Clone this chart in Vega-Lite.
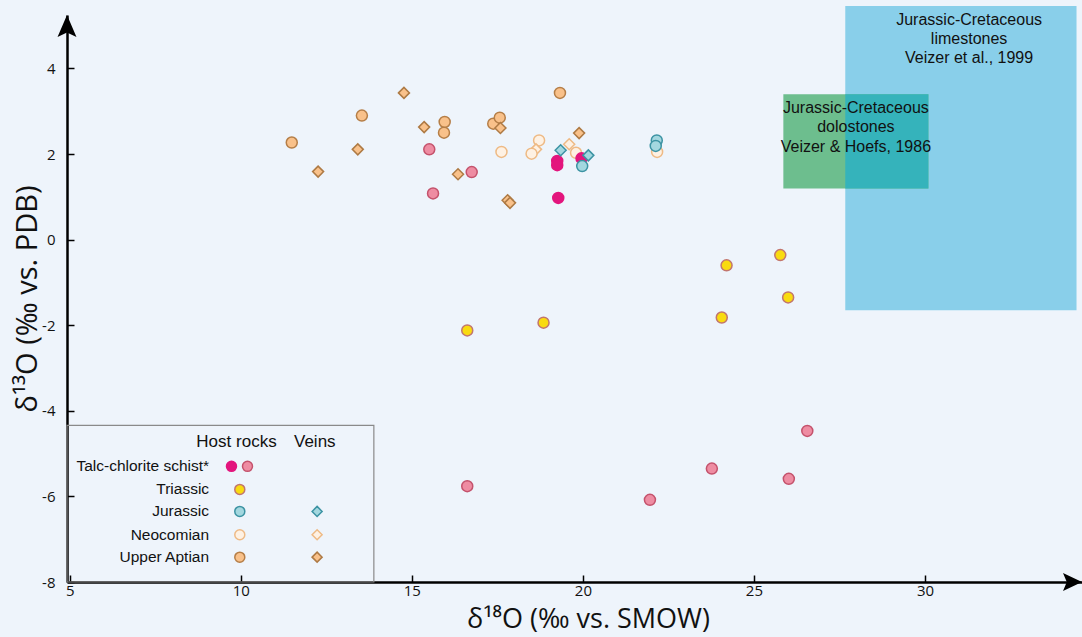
{
  "$schema": "https://vega.github.io/schema/vega-lite/v6.json",
  "width": 1015,
  "height": 567,
  "autosize": "none",
  "padding": {"left": 67, "top": 15, "right": 0, "bottom": 55},
  "background": "#eef4fb",
  "config": {
    "view": {"stroke": null},
    "axis": {"grid": false, "zindex": 1, "domainColor": "#000", "domainWidth": 2.5, "tickColor": "#000", "tickWidth": 1.5, "tickSize": -7, "labelFont": "Open Sans", "labelFontSize": 15, "labelColor": "#111", "titleFont": "Open Sans", "titleFontWeight": "normal", "titleColor": "#111", "labelFlush": false, "labelExpr": "'' + datum.value"}
  },
  "datasets": {
    "regions": [
      {"region": "limestones", "x": 27.67, "x2": 34.43, "y": -1.65, "y2": 5.46},
      {"region": "dolostones", "x": 25.86, "x2": 30.10, "y": 1.195, "y2": 3.40},
      {"region": "overlap", "x": 27.67, "x2": 30.10, "y": 1.195, "y2": 3.40}
    ],
    "regionText": [
      {"x": 31.29, "y": 5.13, "label": "Jurassic-Cretaceous"},
      {"x": 31.29, "y": 4.68, "label": "limestones"},
      {"x": 31.29, "y": 4.24, "label": "Veizer et al., 1999"},
      {"x": 27.98, "y": 3.07, "label": "Jurassic-Cretaceous"},
      {"x": 27.98, "y": 2.63, "label": "dolostones"},
      {"x": 27.98, "y": 2.16, "label": "Veizer & Hoefs, 1986"}
    ],
    "points": [
      {"x": 16.62, "y": -5.76, "series": "Talc-chlorite schist B", "type": "Host rocks"},
      {"x": 21.96, "y": -6.08, "series": "Talc-chlorite schist B", "type": "Host rocks"},
      {"x": 23.77, "y": -5.35, "series": "Talc-chlorite schist B", "type": "Host rocks"},
      {"x": 26.02, "y": -5.59, "series": "Talc-chlorite schist B", "type": "Host rocks"},
      {"x": 26.56, "y": -4.47, "series": "Talc-chlorite schist B", "type": "Host rocks"},
      {"x": 15.51, "y": 2.11, "series": "Talc-chlorite schist B", "type": "Host rocks"},
      {"x": 15.62, "y": 1.08, "series": "Talc-chlorite schist B", "type": "Host rocks"},
      {"x": 16.75, "y": 1.58, "series": "Talc-chlorite schist B", "type": "Host rocks"},
      {"x": 16.62, "y": -2.12, "series": "Triassic", "type": "Host rocks"},
      {"x": 18.85, "y": -1.94, "series": "Triassic", "type": "Host rocks"},
      {"x": 24.06, "y": -1.82, "series": "Triassic", "type": "Host rocks"},
      {"x": 24.20, "y": -0.60, "series": "Triassic", "type": "Host rocks"},
      {"x": 25.77, "y": -0.36, "series": "Triassic", "type": "Host rocks"},
      {"x": 26.00, "y": -1.35, "series": "Triassic", "type": "Host rocks"},
      {"x": 11.49, "y": 2.27, "series": "Upper Aptian host", "type": "Host rocks"},
      {"x": 13.54, "y": 2.90, "series": "Upper Aptian host", "type": "Host rocks"},
      {"x": 15.96, "y": 2.75, "series": "Upper Aptian host", "type": "Host rocks"},
      {"x": 15.94, "y": 2.50, "series": "Upper Aptian host", "type": "Host rocks"},
      {"x": 17.38, "y": 2.71, "series": "Upper Aptian host", "type": "Host rocks"},
      {"x": 17.57, "y": 2.85, "series": "Upper Aptian host", "type": "Host rocks"},
      {"x": 19.33, "y": 3.43, "series": "Upper Aptian host", "type": "Host rocks"},
      {"x": 14.77, "y": 3.43, "series": "Upper Aptian vein", "type": "Veins"},
      {"x": 15.36, "y": 2.63, "series": "Upper Aptian vein", "type": "Veins"},
      {"x": 13.42, "y": 2.11, "series": "Upper Aptian vein", "type": "Veins"},
      {"x": 12.26, "y": 1.59, "series": "Upper Aptian vein", "type": "Veins"},
      {"x": 16.35, "y": 1.53, "series": "Upper Aptian vein", "type": "Veins"},
      {"x": 17.59, "y": 2.61, "series": "Upper Aptian vein", "type": "Veins"},
      {"x": 19.89, "y": 2.49, "series": "Upper Aptian vein", "type": "Veins"},
      {"x": 17.80, "y": 0.92, "series": "Upper Aptian vein", "type": "Veins"},
      {"x": 17.87, "y": 0.86, "series": "Upper Aptian vein", "type": "Veins"},
      {"x": 17.62, "y": 2.05, "series": "Neocomian host", "type": "Host rocks"},
      {"x": 18.72, "y": 2.32, "series": "Neocomian host", "type": "Host rocks"},
      {"x": 22.17, "y": 2.05, "series": "Neocomian host", "type": "Host rocks"},
      {"x": 18.63, "y": 2.11, "series": "Neocomian vein", "type": "Veins"},
      {"x": 18.50, "y": 2.01, "series": "Neocomian host", "type": "Host rocks"},
      {"x": 19.60, "y": 2.23, "series": "Neocomian vein", "type": "Veins"},
      {"x": 19.80, "y": 2.03, "series": "Neocomian host", "type": "Host rocks"},
      {"x": 19.25, "y": 1.84, "series": "Talc-chlorite schist A", "type": "Host rocks"},
      {"x": 19.25, "y": 1.74, "series": "Talc-chlorite schist A", "type": "Host rocks"},
      {"x": 19.28, "y": 0.975, "series": "Talc-chlorite schist A", "type": "Host rocks"},
      {"x": 19.96, "y": 1.90, "series": "Talc-chlorite schist A", "type": "Host rocks"},
      {"x": 19.98, "y": 1.72, "series": "Jurassic host", "type": "Host rocks"},
      {"x": 22.16, "y": 2.32, "series": "Jurassic host", "type": "Host rocks"},
      {"x": 22.13, "y": 2.19, "series": "Jurassic host", "type": "Host rocks"},
      {"x": 19.35, "y": 2.09, "series": "Jurassic vein", "type": "Veins"},
      {"x": 20.16, "y": 1.97, "series": "Jurassic vein", "type": "Veins"}
    ],
    "legendBox": [{"x": 4.92, "x2": 13.89, "y": -8, "y2": -4.34}],
    "legendSymbols": [
      {"x": 9.728, "y": -5.298, "series": "Talc-chlorite schist A", "type": "Host rocks"},
      {"x": 10.196, "y": -5.298, "series": "Talc-chlorite schist B", "type": "Host rocks"},
      {"x": 9.971, "y": -5.836, "series": "Triassic", "type": "Host rocks"},
      {"x": 9.971, "y": -6.351, "series": "Jurassic host", "type": "Host rocks"},
      {"x": 12.231, "y": -6.351, "series": "Jurassic vein", "type": "Veins"},
      {"x": 9.971, "y": -6.895, "series": "Neocomian host", "type": "Host rocks"},
      {"x": 12.231, "y": -6.895, "series": "Neocomian vein", "type": "Veins"},
      {"x": 9.971, "y": -7.419, "series": "Upper Aptian host", "type": "Host rocks"},
      {"x": 12.231, "y": -7.419, "series": "Upper Aptian vein", "type": "Veins"}
    ],
    "legendLabels": [
      {"x": 9.073, "y": -5.298, "label": "Talc-chlorite schist*"},
      {"x": 9.073, "y": -5.836, "label": "Triassic"},
      {"x": 9.073, "y": -6.351, "label": "Jurassic"},
      {"x": 9.073, "y": -6.895, "label": "Neocomian"},
      {"x": 9.073, "y": -7.419, "label": "Upper Aptian"}
    ],
    "legendHeaders": [
      {"x": 9.874, "y": -4.73, "label": "Host rocks"},
      {"x": 12.164, "y": -4.73, "label": "Veins"}
    ],
    "arrows": [
      {"x": 4.92, "y": 5.25, "dir": "up"},
      {"x": 34.59, "y": -8, "dir": "right"}
    ]
  },
  "encoding": {
    "x": {"field": "x", "type": "quantitative", "scale": {"domain": [4.92, 34.59], "nice": false, "zero": false},
      "axis": {"values": [5, 10, 15, 20, 25, 30], "labelPadding": 8, "title": "δ¹⁸O (‰ vs. SMOW)", "titleFontSize": 27, "titleX": 521, "titleY": 24, "titleBaseline": "top"}},
    "y": {"field": "y", "type": "quantitative", "scale": {"domain": [-8, 5.25], "nice": false, "zero": false},
      "axis": {"values": [-8, -6, -4, -2, 0, 2, 4], "labelPadding": 19, "title": "δ¹³O (‰ vs. PDB)", "titleFontSize": 29, "titleX": -25}}
  },
  "layer": [
    {
      "data": {"name": "regions"},
      "mark": {"type": "rect"},
      "encoding": {
        "x2": {"field": "x2"},
        "y2": {"field": "y2"},
        "color": {"field": "region", "type": "nominal", "legend": null,
          "scale": {"domain": ["limestones", "dolostones", "overlap"], "range": ["#89cfea", "#6dbe8e", "#35b3bb"]}}
      }
    },
    {
      "data": {"name": "regionText"},
      "mark": {"type": "text", "font": "Liberation Sans", "fontSize": 16, "color": "#111", "align": "center", "baseline": "middle"},
      "encoding": {"text": {"field": "label"}}
    },
    {
      "data": {"name": "legendBox"},
      "mark": {"type": "rect", "fill": null, "fillOpacity": 0, "stroke": "#8a8a8a", "strokeWidth": 1.2},
      "encoding": {"x2": {"field": "x2"}, "y2": {"field": "y2"}}
    },
    {
      "data": {"name": "points"},
      "mark": {"type": "point", "filled": false, "strokeWidth": 1.5, "opacity": 1},
      "encoding": {
        "fill": {"field": "series", "type": "nominal", "legend": null,
          "scale": {"domain": ["Talc-chlorite schist A", "Talc-chlorite schist B", "Triassic", "Jurassic host", "Jurassic vein", "Neocomian host", "Neocomian vein", "Upper Aptian host", "Upper Aptian vein"],
            "range": ["#e3157d", "#ee8ca2", "#f9db10", "#a3d7df", "#a3d7df", "#fef1e3", "#fef1e3", "#f9c18a", "#f9c18a"]}},
        "stroke": {"field": "series", "type": "nominal", "legend": null,
          "scale": {"domain": ["Talc-chlorite schist A", "Talc-chlorite schist B", "Triassic", "Jurassic host", "Jurassic vein", "Neocomian host", "Neocomian vein", "Upper Aptian host", "Upper Aptian vein"],
            "range": ["#e3157d", "#c4526c", "#c2766e", "#3c93a3", "#3c93a3", "#eeba85", "#eeba85", "#b57e47", "#ae7a44"]}},
        "size": {"field": "series", "type": "ordinal", "legend": null,
          "scale": {"domain": ["Talc-chlorite schist A", "Talc-chlorite schist B", "Triassic", "Jurassic host", "Jurassic vein", "Neocomian host", "Neocomian vein", "Upper Aptian host", "Upper Aptian vein"],
            "range": [121, 121, 110, 169, 144, 169, 144, 169, 144]}},
        "shape": {"field": "type", "type": "nominal", "legend": null,
          "scale": {"domain": ["Host rocks", "Veins"], "range": ["circle", "diamond"]}}
      }
    },
    {
      "data": {"name": "legendSymbols"},
      "mark": {"type": "point", "filled": false, "strokeWidth": 1.5, "opacity": 1, "size": 100},
      "encoding": {
        "fill": {"field": "series", "type": "nominal", "legend": null},
        "stroke": {"field": "series", "type": "nominal", "legend": null},
        "shape": {"field": "type", "type": "nominal", "legend": null}
      }
    },
    {
      "data": {"name": "legendLabels"},
      "mark": {"type": "text", "font": "Liberation Sans", "fontSize": 15.5, "color": "#111", "align": "right", "baseline": "middle"},
      "encoding": {"text": {"field": "label"}}
    },
    {
      "data": {"name": "legendHeaders"},
      "mark": {"type": "text", "font": "Liberation Sans", "fontSize": 17, "color": "#111", "align": "center", "baseline": "middle"},
      "encoding": {"text": {"field": "label"}}
    },
    {
      "data": {"name": "arrows"},
      "transform": [{"filter": "datum.dir === 'up'"}],
      "mark": {"type": "point", "shape": "M0,0L0.43,1L0,0.8L-0.43,1Z", "size": 1936, "filled": true, "color": "#000", "opacity": 1},
      "encoding": {}
    },
    {
      "data": {"name": "arrows"},
      "transform": [{"filter": "datum.dir === 'right'"}],
      "mark": {"type": "point", "shape": "M0,0L-1,0.47L-0.8,0L-1,-0.47Z", "size": 1444, "filled": true, "color": "#000", "opacity": 1},
      "encoding": {}
    }
  ]
}
